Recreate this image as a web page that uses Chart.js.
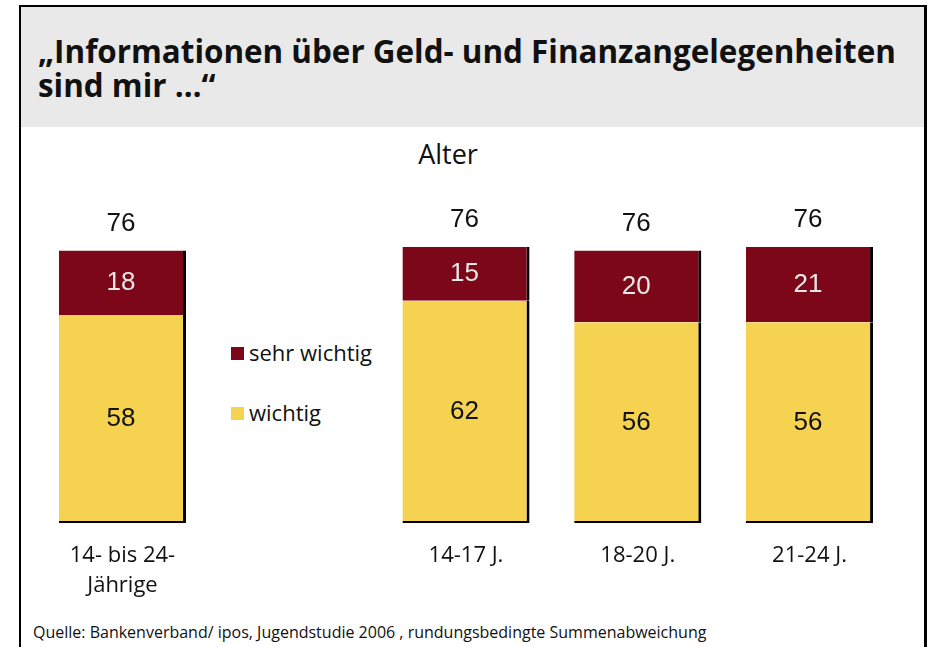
<!DOCTYPE html>
<html lang="de">
<head>
<meta charset="utf-8">
<title>Informationen über Geld- und Finanzangelegenheiten</title>
<script src="https://cdn.jsdelivr.net/npm/chart.js@4.4.1/dist/chart.umd.min.js"></script>
<style>
  html, body { margin: 0; padding: 0; background: #fff; }
  body { width: 930px; height: 647px; position: relative; overflow: hidden; font-family: "Open Sans", sans-serif; color: #111; }
  .frame { position: absolute; left: 19px; top: 5px; width: 903px; height: 640px; border-left: 2px solid #000; border-top: 2px solid #000; border-right: 3px solid #000; }
  .head { position: absolute; left: 21px; top: 7px; width: 903px; height: 120px; background: #e9e9e9; }
  .title { position: absolute; left: 38px; top: 34px; font-weight: 700; font-size: 31.4px; line-height: 34px; white-space: nowrap; }
  .sub { position: absolute; left: 348px; width: 200px; top: 140px; text-align: center; font-size: 27px; line-height: 27px; }
  .src { position: absolute; left: 33px; top: 624px; font-size: 16px; line-height: 16px; white-space: nowrap; }
  .legend { position: absolute; left: 231px; top: 0; }
  .legend-item { position: absolute; left: 0; white-space: nowrap; font-size: 22px; line-height: 22px; }
  .legend-item i { position: absolute; left: 0; top: 6.5px; width: 13px; height: 13px; }
  .legend-item span { position: absolute; left: 18px; top: 0; }
  canvas { position: absolute; left: 0; top: 0; }
</style>
</head>
<body>
<div class="frame"></div>
<div class="head"></div>
<div class="title">„Informationen über Geld- und Finanzangelegenheiten<br>sind mir …“</div>
<div class="sub">Alter</div>
<div class="legend" id="legend"></div>
<div class="src">Quelle: Bankenverband/ ipos, Jugendstudie 2006 , rundungsbedingte Summenabweichung</div>
<canvas id="chart" width="930" height="647"></canvas>

<script>
// categories; the empty slot holds the legend
const categories = [["14- bis 24-", "Jährige"], "", "14-17 J.", "18-20 J.", "21-24 J."];
const wichtig = [58, null, 62, 56, 56];
const sehrWichtig = [18, null, 15, 20, 21];
const totals = [76, null, 76, 76, 76];

const RED = "#7b0719";
const YELLOW = "#f5d350";

// numbers inside the bars and totals on top
const valueLabels = {
  id: "valueLabels",
  afterDatasetsDraw(chart) {
    const ctx = chart.ctx;
    ctx.save();
    ctx.font = '26px "Liberation Sans", Arial, sans-serif';
    ctx.textAlign = "center";
    ctx.textBaseline = "middle";
    chart.data.datasets.forEach((ds, di) => {
      chart.getDatasetMeta(di).data.forEach((bar, i) => {
        const v = ds.data[i];
        if (v == null) return;
        const { x, y, base } = bar.getProps(["x", "y", "base"], true);
        ctx.fillStyle = ds.labelColor;
        ctx.fillText(String(v), x - 1.5, (y + base) / 2);
      });
    });
    const topMeta = chart.getDatasetMeta(chart.data.datasets.length - 1);
    ctx.fillStyle = "#111";
    totals.forEach((t, i) => {
      if (t == null) return;
      const bar = topMeta.data[i];
      ctx.fillText(String(t), bar.x - 1.5, bar.y - 27);
    });
    ctx.restore();
  },
};

const chart = new Chart(document.getElementById("chart"), {
  type: "bar",
  data: {
    labels: categories,
    datasets: [
      {
        label: "wichtig",
        data: wichtig,
        backgroundColor: YELLOW,
        borderColor: "#000",
        borderWidth: { top: 0, right: 3, bottom: 2, left: 0 },
        borderSkipped: false,
        labelColor: "#111",
      },
      {
        label: "sehr wichtig",
        data: sehrWichtig,
        backgroundColor: RED,
        borderColor: "#000",
        borderWidth: { top: 0, right: 3, bottom: 0, left: 0 },
        borderSkipped: false,
        labelColor: "#e8e8e8",
      },
    ],
  },
  options: {
    responsive: false,
    animation: false,
    events: [],
    layout: { padding: { left: 36.6, right: 34.6, top: 200.3, bottom: 0 } },
    datasets: { bar: { categoryPercentage: 0.74, barPercentage: 1, inflateAmount: 0 } },
    plugins: { legend: { display: false }, tooltip: { enabled: false } },
    scales: {
      x: {
        stacked: true,
        grid: { display: false, drawTicks: false },
        border: { display: false },
        ticks: {
          autoSkip: false,
          maxRotation: 0,
          padding: 18,
          color: "#111",
          font: { family: '"Open Sans", sans-serif', size: 22, lineHeight: 30 / 22 },
        },
        afterFit(scale) { scale.height = 124; },
      },
      y: { stacked: true, display: false, min: 0, max: 90 },
    },
  },
  plugins: [valueLabels],
});

// legend built from the datasets, top segment first
const legendEl = document.getElementById("legend");
chart.data.datasets.slice().reverse().forEach((ds, i) => {
  const item = document.createElement("div");
  item.className = "legend-item";
  item.style.top = (340.5 + i * 60) + "px";
  item.innerHTML = '<i style="background:' + ds.backgroundColor + '"></i><span>' + ds.label + "</span>";
  legendEl.appendChild(item);
});
</script>
</body>
</html>
